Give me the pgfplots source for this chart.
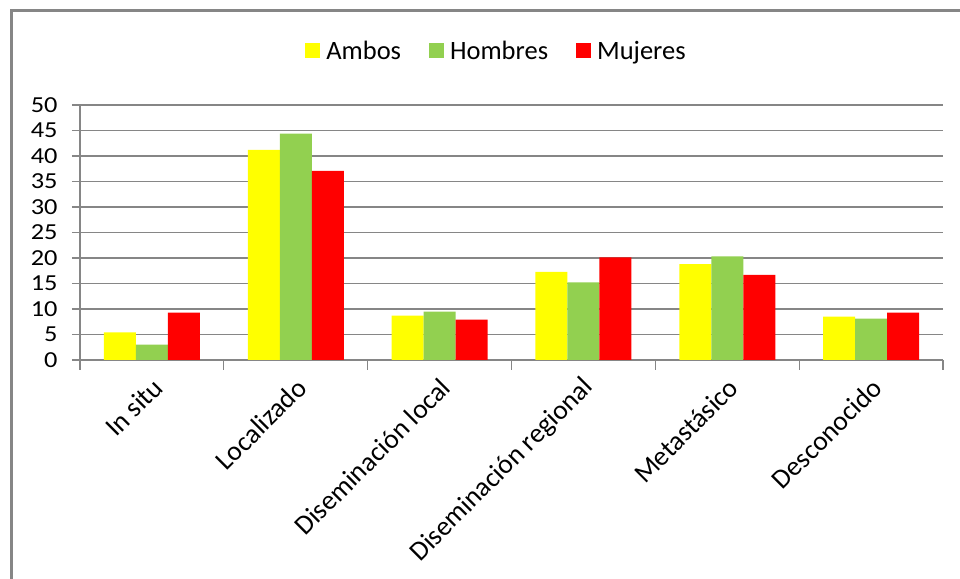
\documentclass[border=0pt]{standalone}
\usepackage{fontspec}
\setmainfont{Carlito}
\usepackage{pgfplots}
\pgfplotsset{compat=1.18}
\definecolor{cyel}{HTML}{FFFF00}
\definecolor{cgreen}{HTML}{92D050}
\definecolor{cred}{HTML}{FF0000}
\definecolor{cgrid}{HTML}{868686}
\begin{document}
\begin{tikzpicture}[x=1bp,y=1bp]
\path[use as bounding box] (0,0) rectangle (960,579);
\draw[line width=3bp, color=cgrid] (11,0) -- (11,568) -- (961,568);
\begin{axis}[
  at={(80bp,219bp)}, anchor=south west,
  width=863bp, height=255bp, scale only axis,
  ymin=0, ymax=50, ytick={0,5,...,50},
  xmin=-0.5, xmax=5.5,
  axis x line=bottom, axis y line=left,
  axis line style={-, draw=cgrid, line width=1.2bp},
  every inner x axis line/.append style={-},
  every inner y axis line/.append style={-},
  xtick={0,...,5},
  xticklabels={In situ, Localizado, Diseminación local, Diseminación regional, Metastásico, Desconocido},
  minor xtick={-0.5,0.5,...,5.5},
  tick align=outside,
  major tick length=8bp, minor tick length=10bp,
  major x tick style={draw=none},
  tick style={draw=cgrid, line width=1.2bp},
  ymajorgrids, major grid style={draw=cgrid, line width=1.2bp},
  /pgf/number format/assume math mode=true,
  yticklabel={\scalebox{1.15}[1]{\pgfmathprintnumber{\tick}}},
  yticklabel style={font=\fontsize{23}{25}\selectfont, anchor=east, xshift=-11bp},
  xticklabel style={font=\fontsize{27.5}{29}\selectfont, rotate=45, anchor=east, xshift=-3bp, yshift=-15bp},
  ybar=0pt, bar width=32bp,
  legend columns=-1,
  legend style={draw=none, at={(0.4826,1.212)}, anchor=center, font=\fontsize{26.6}{28}\selectfont,
    /tikz/every even column/.append style={column sep=26bp}},
  legend image code/.code={\fill[#1] (0bp,-7.5bp) rectangle (15bp,7.5bp); \path (19bp,0bp);},
]
\addplot[fill=cyel, draw=none] coordinates {(0,5.4) (1,41.2) (2,8.7) (3,17.3) (4,18.8) (5,8.5)};
\addplot[fill=cgreen, draw=none] coordinates {(0,3.0) (1,44.4) (2,9.5) (3,15.2) (4,20.3) (5,8.1)};
\addplot[fill=cred, draw=none] coordinates {(0,9.3) (1,37.1) (2,7.9) (3,20.1) (4,16.7) (5,9.3)};
\legend{Ambos, Hombres, Mujeres}
\end{axis}
\end{tikzpicture}
\end{document}
